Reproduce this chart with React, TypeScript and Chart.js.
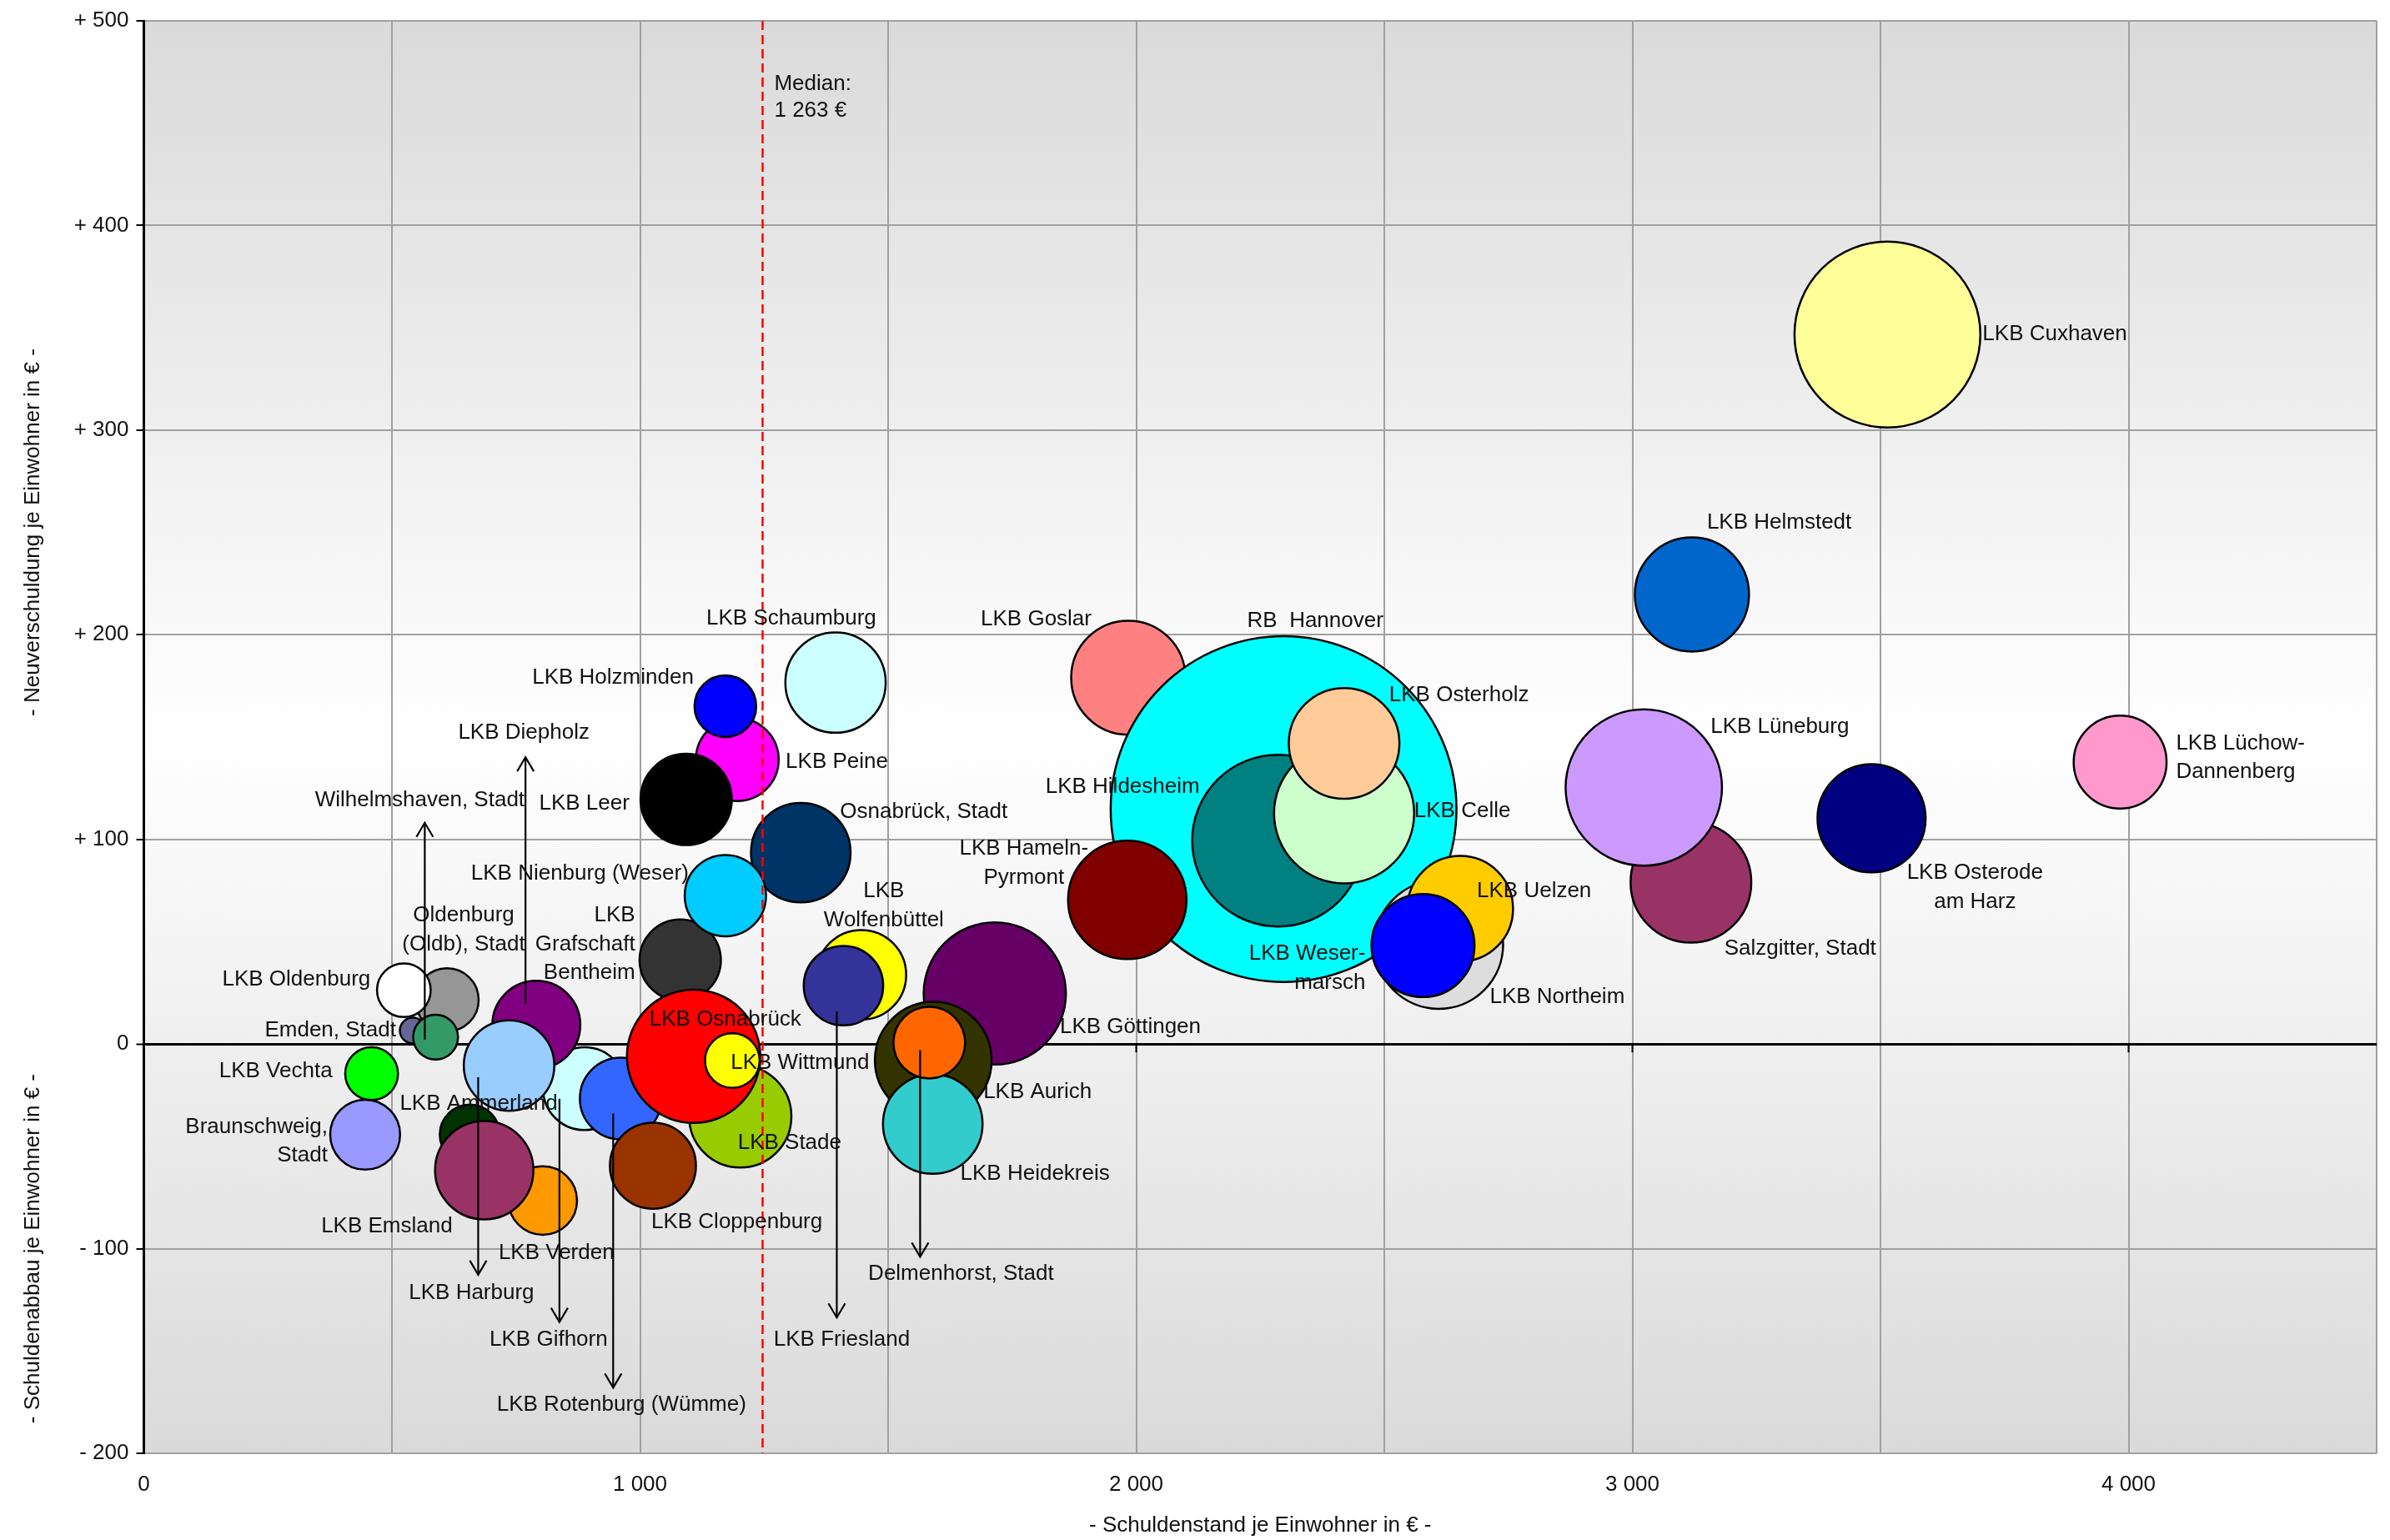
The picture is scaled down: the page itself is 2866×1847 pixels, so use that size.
import React, { useEffect, useRef } from 'react';
import { Chart, registerables } from 'chart.js';

Chart.register(...registerables);

// ---------------- data (drawing order: back to front) ----------------
const NAMES = [
  'LKB Goslar', 'RB Hannover', 'LKB Hildesheim', 'LKB Celle', 'LKB Osterholz', 'LKB Hameln-Pyrmont',
  'LKB Northeim', 'LKB Uelzen', 'LKB Wesermarsch', 'LKB Cuxhaven', 'LKB Helmstedt', 'Salzgitter, Stadt',
  'LKB Lüneburg', 'LKB Osterode am Harz', 'LKB Lüchow-Dannenberg', 'LKB Göttingen', 'LKB Aurich',
  'LKB Heidekreis', 'Delmenhorst, Stadt', 'LKB Wolfenbüttel', 'LKB Friesland', 'LKB Schaumburg',
  'LKB Peine', 'LKB Holzminden', 'LKB Leer', 'Osnabrück, Stadt', 'LKB Grafschaft Bentheim',
  'LKB Nienburg (Weser)', 'LKB Stade', 'LKB Gifhorn', 'LKB Rotenburg (Wümme)', 'LKB Osnabrück',
  'LKB Wittmund', 'LKB Cloppenburg', 'LKB Diepholz', 'LKB Ammerland', 'LKB Harburg', 'LKB Verden',
  'LKB Emsland', 'Oldenburg (Oldb), Stadt', 'Emden, Stadt', 'LKB Oldenburg', 'Wilhelmshaven, Stadt',
  'Braunschweig, Stadt', 'LKB Vechta',
];

// Schuldenstand je Einwohner in €
const DEBT_PER_CAPITA = [
  1984, 2297, 2286, 2419, 2419, 1982,
  2610, 2653, 2578, 3514, 3120, 3118,
  3023, 3482, 3983, 1715, 1591,
  1590, 1583, 1446, 1410, 1394,
  1196, 1172, 1093, 1324, 1081,
  1172, 1202, 888, 961, 1108,
  1186, 1026, 791, 657, 736, 804,
  686, 611, 542, 524, 588,
  446, 459,
];

// Neuverschuldung (+) / Schuldenabbau (-) je Einwohner in €
const CHANGE_PER_CAPITA = [
  179.0, 114.8, 99.4, 112.7, 146.9, 70.4,
  48.6, 66.1, 48.1, 346.7, 219.7, 79.0,
  125.3, 110.3, 137.8, 24.7, -7.9,
  -39.1, 0.7, 33.8, 28.5, 176.6,
  139.0, 165.1, 119.5, 93.5, 41.0,
  72.5, -35.4, -21.8, -26.6, -6.0,
  -8.1, -59.5, 9.4, -44.3, -10.5, -76.5,
  -61.7, 21.6, 6.6, 26.3, 3.4,
  -44.3, -14.5,
];

// Gesamtschulden in Mio. € (bubble area)
const TOTAL_DEBT = [
  267, 2403, 599, 400, 251, 287,
  337, 229, 218, 700, 267, 298,
  497, 240, 178, 412, 279,
  204, 107, 166, 131, 207,
  142, 80, 172, 204, 137,
  137, 215, 142, 138, 363,
  63, 153, 160, 76, 169, 98,
  199, 84, 15, 61, 43,
  102, 59,
];

const COLORS = [
  '#FF8080', '#00FFFF', '#008080', '#CCFFCC', '#FFCC99', '#800000',
  '#DDDDDD', '#FFCC00', '#0000FF', '#FFFF99', '#0066CC', '#993366',
  '#CC99FF', '#000080', '#FF99CC', '#660066', '#333300',
  '#33CCCC', '#FF6600', '#FFFF00', '#333399', '#CCFFFF',
  '#FF00FF', '#0000FF', '#000000', '#003366', '#333333',
  '#00CCFF', '#99CC00', '#CCFFFF', '#3366FF', '#FF0000',
  '#FFFF00', '#993300', '#800080', '#003300', '#99CCFF', '#FF9900',
  '#993366', '#969696', '#666699', '#FFFFFF', '#339966',
  '#9999FF', '#00FF00',
];

const X_TICK_LABELS = [0, 1000, 2000, 3000, 4000];
const Y_TICKS = [500, 400, 300, 200, 100, 0, -100, -200];
const MEDIAN_VALUE = 1263;
const MEDIAN_LINE_AT = 1247;

// ---------------- label layout (pixel offsets from bubble centre) ----------------
type Lbl = { t: string[]; dx: number; dy: number; a: CanvasTextAlign };
const LABELS: Lbl[] = [
  { t: ['LKB Goslar'], dx: -44, dy: -70, a: 'right' },
  { t: ['RB  Hannover'], dx: 38, dy: -226, a: 'center' },
  { t: ['LKB Hildesheim'], dx: -94, dy: -64, a: 'right' },
  { t: ['LKB Celle'], dx: 84, dy: -3, a: 'left' },
  { t: ['LKB Osterholz'], dx: 54, dy: -58, a: 'left' },
  { t: ['LKB Hameln-', 'Pyrmont'], dx: -124, dy: -44, a: 'center' },
  { t: ['LKB Northeim'], dx: 61, dy: 63, a: 'left' },
  { t: ['LKB Uelzen'], dx: 20, dy: -21, a: 'left' },
  { t: ['LKB Weser-', 'marsch'], dx: -69, dy: 27, a: 'right' },
  { t: ['LKB Cuxhaven'], dx: 114, dy: 0, a: 'left' },
  { t: ['LKB Helmstedt'], dx: 18, dy: -86, a: 'left' },
  { t: ['Salzgitter, Stadt'], dx: 40, dy: 80, a: 'left' },
  { t: ['LKB Lüneburg'], dx: 80, dy: -73, a: 'left' },
  { t: ['LKB Osterode', 'am Harz'], dx: 124, dy: 83, a: 'center' },
  { t: ['LKB Lüchow-', 'Dannenberg'], dx: 67, dy: -5, a: 'left' },
  { t: ['LKB Göttingen'], dx: 78, dy: 40, a: 'left' },
  { t: ['LKB Aurich'], dx: 60, dy: 38, a: 'left' },
  { t: ['LKB Heidekreis'], dx: 33, dy: 60, a: 'left' },
  { t: ['Delmenhorst, Stadt'], dx: 38, dy: 277, a: 'center' },
  { t: ['LKB', 'Wolfenbüttel'], dx: 27, dy: -83, a: 'center' },
  { t: ['LKB Friesland'], dx: -2, dy: 425, a: 'center' },
  { t: ['LKB Schaumburg'], dx: -53, dy: -77, a: 'center' },
  { t: ['LKB Peine'], dx: 58, dy: 3, a: 'left' },
  { t: ['LKB Holzminden'], dx: -38, dy: -34, a: 'right' },
  { t: ['LKB Leer'], dx: -68, dy: 5, a: 'right' },
  { t: ['Osnabrück, Stadt'], dx: 47, dy: -49, a: 'left' },
  { t: ['LKB', 'Grafschaft', 'Bentheim'], dx: -54, dy: -19, a: 'right' },
  { t: ['LKB Nienburg (Weser)'], dx: -44, dy: -26, a: 'right' },
  { t: ['LKB Stade'], dx: -3, dy: 32, a: 'left' },
  { t: ['LKB Gifhorn'], dx: -43, dy: 301, a: 'center' },
  { t: ['LKB Rotenburg (Wümme)'], dx: 1, dy: 367, a: 'center' },
  { t: ['LKB Osnabrück'], dx: -53, dy: -44, a: 'left' },
  { t: ['LKB Wittmund'], dx: -2, dy: 3, a: 'left' },
  { t: ['LKB Cloppenburg'], dx: -2, dy: 68, a: 'left' },
  { t: ['LKB Diepholz'], dx: -15, dy: -350, a: 'center' },
  { t: ['LKB Ammerland'], dx: -84, dy: -37, a: 'left' },
  { t: ['LKB Harburg'], dx: -45, dy: 273, a: 'center' },
  { t: ['LKB Verden'], dx: -53, dy: 63, a: 'left' },
  { t: ['LKB Emsland'], dx: -38, dy: 67, a: 'right' },
  { t: ['Oldenburg', '(Oldb), Stadt'], dx: 20, dy: -84, a: 'center' },
  { t: ['Emden, Stadt'], dx: -20, dy: 0, a: 'right' },
  { t: ['LKB Oldenburg'], dx: -40, dy: -13, a: 'right' },
  { t: ['Wilhelmshaven, Stadt'], dx: -19, dy: -284, a: 'center' },
  { t: ['Braunschweig,', 'Stadt'], dx: -45, dy: 8, a: 'right' },
  { t: ['LKB Vechta'], dx: -47, dy: -3, a: 'right' },
];

// arrows: start offset from bubble centre, end offset (vertical)
const ARROWS = [
  { name: 'Wilhelmshaven, Stadt', sdx: -13, sdy: 3, edy: -257 },
  { name: 'LKB Diepholz', sdx: -13, sdy: -25, edy: -321 },
  { name: 'LKB Harburg', sdx: -37, sdy: 14, edy: 251 },
  { name: 'LKB Gifhorn', sdx: -30, sdy: 12, edy: 280 },
  { name: 'LKB Rotenburg (Wümme)', sdx: -9, sdy: 18, edy: 347 },
  { name: 'LKB Friesland', sdx: -8, sdy: 31, edy: 398 },
  { name: 'Delmenhorst, Stadt', sdx: -11, sdy: 9, edy: 257 },
];

const FONT_FAMILY = '"Liberation Sans", Arial, sans-serif';
const FONT_SIZE = 26;
const LINE_H = 34.5;
const TEXT_COLOR = '#111111';
const GRID_COLOR = '#A0A0A0';
const RADIUS_K = 4.25;

const fmtThousands = (v: number) => {
  const s = Math.abs(v).toString();
  return s.replace(/\B(?=(\d{3})+(?!\d))/g, ' ');
};

const annotationPlugin = {
  id: 'annotations',
  beforeDraw(chart: any) {
    const { ctx, chartArea: a } = chart;
    const g = ctx.createLinearGradient(0, a.top, 0, a.bottom);
    g.addColorStop(0, '#DADADA');
    g.addColorStop(0.5, '#FFFFFF');
    g.addColorStop(1, '#DADADA');
    ctx.save();
    ctx.fillStyle = g;
    ctx.fillRect(a.left, a.top, a.right - a.left, a.bottom - a.top);
    ctx.restore();
  },
  beforeDatasetsDraw(chart: any) {
    const { ctx } = chart;
    const xs = chart.scales.x;
    const ys = chart.scales.y;
    const y0 = ys.getPixelForValue(0);
    ctx.save();
    ctx.strokeStyle = '#000';
    ctx.lineWidth = 2;
    for (const v of X_TICK_LABELS) {
      if (v === 0) continue;
      const px = xs.getPixelForValue(v);
      ctx.beginPath();
      ctx.moveTo(px, y0);
      ctx.lineTo(px, y0 + 10);
      ctx.stroke();
    }
    ctx.restore();
  },
  afterDatasetsDraw(chart: any) {
    const { ctx, chartArea: a } = chart;
    const xs = chart.scales.x;
    const ys = chart.scales.y;
    const meta = chart.getDatasetMeta(0);

    // median line
    const mx = xs.getPixelForValue(MEDIAN_LINE_AT);
    ctx.save();
    ctx.strokeStyle = '#FF0000';
    ctx.lineWidth = 2.5;
    ctx.setLineDash([11, 6]);
    ctx.beginPath();
    ctx.moveTo(mx, a.top);
    ctx.lineTo(mx, a.bottom);
    ctx.stroke();
    ctx.restore();

    // arrows
    ctx.save();
    ctx.strokeStyle = '#000';
    ctx.lineWidth = 2.2;
    for (const ar of ARROWS) {
      const i = NAMES.indexOf(ar.name);
      const el = meta.data[i];
      const x = el.x + ar.sdx;
      const y1 = el.y + ar.sdy;
      const y2 = el.y + ar.edy;
      const dir = Math.sign(y2 - y1);
      ctx.beginPath();
      ctx.moveTo(x, y1);
      ctx.lineTo(x, y2);
      ctx.stroke();
      ctx.beginPath();
      ctx.moveTo(x - 10, y2 - dir * 17);
      ctx.lineTo(x, y2);
      ctx.lineTo(x + 10, y2 - dir * 17);
      ctx.stroke();
    }
    ctx.restore();

    // labels
    ctx.save();
    ctx.fillStyle = TEXT_COLOR;
    ctx.font = `${FONT_SIZE}px ${FONT_FAMILY}`;
    ctx.textBaseline = 'middle';
    LABELS.forEach((l, i) => {
      const el = meta.data[i];
      ctx.textAlign = l.a;
      const n = l.t.length;
      l.t.forEach((line, k) => {
        const y = el.y + l.dy + (k - (n - 1) / 2) * LINE_H;
        ctx.fillText(line, el.x + l.dx, y);
      });
    });
    // median text
    ctx.textAlign = 'left';
    const mTop = ys.getPixelForValue(500);
    ctx.fillText('Median:', mx + 14, mTop + 76);
    ctx.fillText(`${fmtThousands(MEDIAN_VALUE)} €`, mx + 14, mTop + 108);
    ctx.restore();
  },
  afterDraw(chart: any) {
    const { ctx, chartArea: a } = chart;
    const ys = chart.scales.y;
    ctx.save();
    ctx.fillStyle = TEXT_COLOR;
    ctx.font = `${FONT_SIZE}px ${FONT_FAMILY}`;
    ctx.textAlign = 'center';
    ctx.textBaseline = 'middle';
    ctx.fillText('- Schuldenstand je Einwohner in € -', (a.left + a.right) / 2, 1830);
    const yTop = (ys.getPixelForValue(500) + ys.getPixelForValue(0)) / 2;
    const yBot = (ys.getPixelForValue(0) + ys.getPixelForValue(-200)) / 2;
    for (const [txt, yc] of [
      ['- Neuverschuldung je Einwohner in € -', yTop],
      ['- Schuldenabbau je Einwohner in € -', yBot],
    ] as [string, number][]) {
      ctx.save();
      ctx.translate(40, yc);
      ctx.rotate(-Math.PI / 2);
      ctx.fillText(txt, 0, 0);
      ctx.restore();
    }
    ctx.restore();
  },
};

export default function App() {
  const ref = useRef<HTMLCanvasElement | null>(null);

  useEffect(() => {
    document.body.style.margin = '0';
    const canvas = ref.current!;
    const data = NAMES.map((n, i) => ({ x: DEBT_PER_CAPITA[i], y: CHANGE_PER_CAPITA[i], v: TOTAL_DEBT[i] }));
    const chart = new Chart(canvas, {
      type: 'bubble',
      data: {
        datasets: [
          {
            label: 'Kommunen',
            data: data as any,
            backgroundColor: COLORS,
            borderColor: '#000000',
            borderWidth: 2.5,
            radius: (c: any) => RADIUS_K * Math.sqrt(c.raw.v) - 1,
            hoverRadius: 0,
          } as any,
        ],
      },
      plugins: [annotationPlugin],
      options: {
        responsive: false,
        animation: false,
        devicePixelRatio: 1,
        events: [],
        layout: { autoPadding: false, padding: { top: 25, right: 16, bottom: 0, left: 0 } },
        plugins: { legend: { display: false }, tooltip: { enabled: false } },
        scales: {
          x: {
            type: 'linear',
            min: 0,
            max: 4500,
            position: 'bottom',
            ticks: {
              stepSize: 500,
              autoSkip: false,
              maxRotation: 0,
              padding: 22,
              color: TEXT_COLOR,
              font: { family: FONT_FAMILY, size: FONT_SIZE },
              callback: (v: any) => (X_TICK_LABELS.includes(Number(v)) ? fmtThousands(Number(v)) : ''),
            },
            grid: { color: GRID_COLOR, lineWidth: 2, drawTicks: false },
            border: { display: false },
            afterFit: (s: any) => {
              s.height = 104;
              s.paddingLeft = 0;
              s.paddingRight = 0;
            },
          },
          y: {
            type: 'linear',
            min: -200,
            max: 500,
            afterBuildTicks: (s: any) => {
              s.ticks = Y_TICKS.slice().reverse().map((v) => ({ value: v }));
            },
            ticks: {
              padding: 9,
              color: TEXT_COLOR,
              font: { family: FONT_FAMILY, size: FONT_SIZE },
              callback: (v: any) => {
                const n = Number(v);
                if (n > 0) return `+ ${n}`;
                if (n < 0) return `- ${-n}`;
                return '0';
              },
            },
            grid: {
              color: (c: any) => (c.tick && c.tick.value === 0 ? '#000000' : GRID_COLOR),
              lineWidth: (c: any) => (c.tick && c.tick.value === 0 ? 3 : 2),
              tickColor: '#000000',
              tickLength: 9,
              tickWidth: 2,
            },
            border: { color: '#000000', width: 3 },
            afterFit: (s: any) => {
              s.width = 172.5;
              s.paddingTop = 0;
              s.paddingBottom = 0;
            },
          },
        },
      } as any,
    });
    return () => chart.destroy();
  }, []);

  return <canvas ref={ref} width={2866} height={1847} style={{ display: 'block' }} />;
}
